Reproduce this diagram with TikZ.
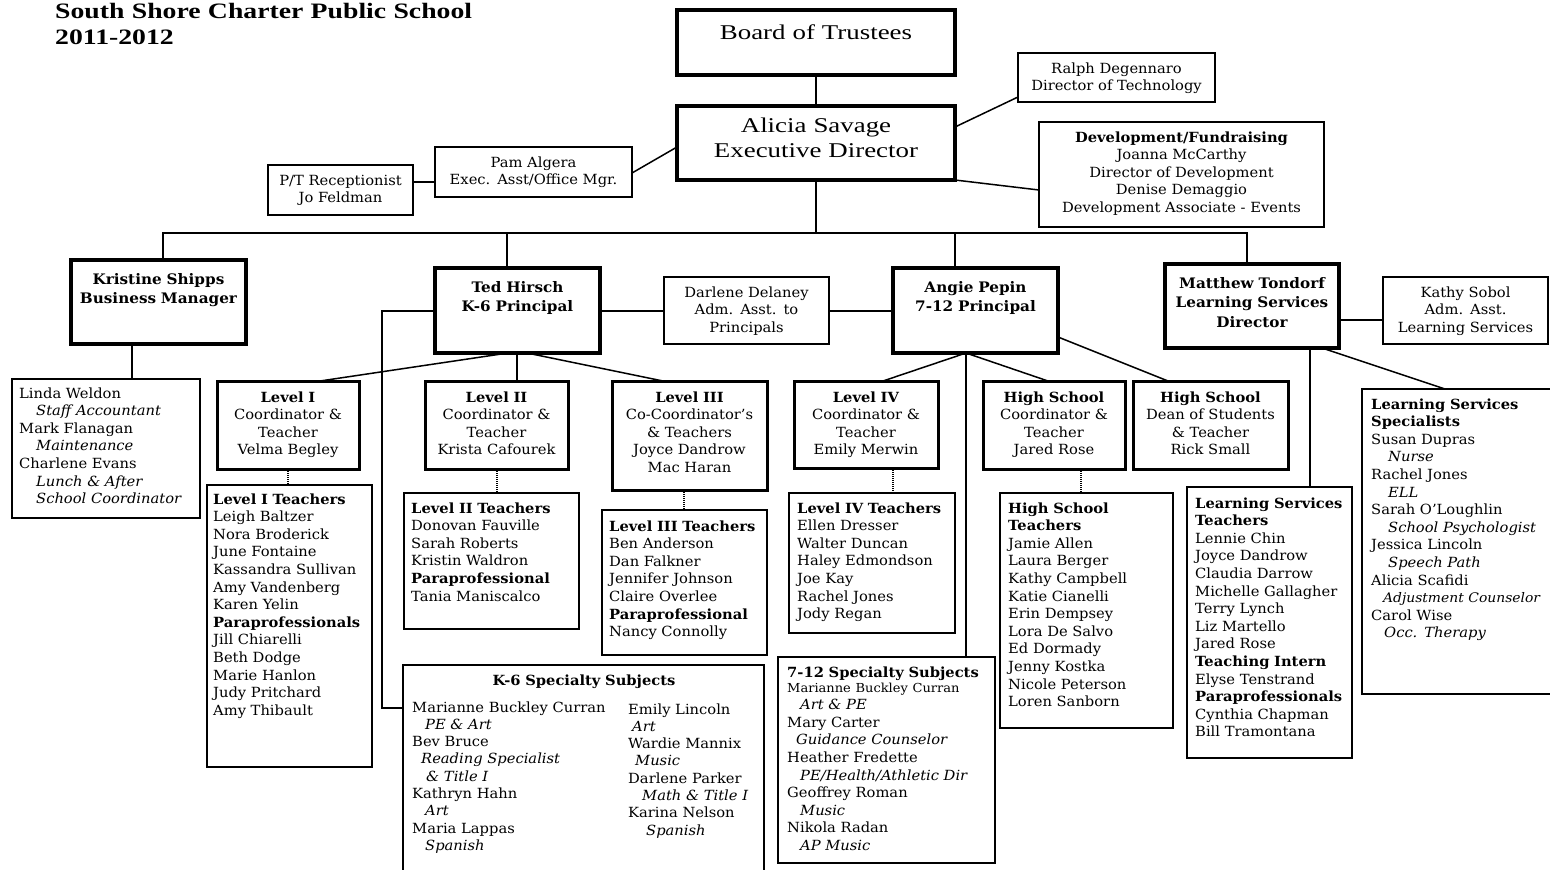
\documentclass[tikz,border=0pt]{standalone}
\usepackage{fontspec}
\setmainfont{DejaVu Serif}[FakeStretch=1.05]
\newfontfamily\tms{Liberation Serif}[FakeStretch=1.28]
\newfontfamily\tmstitle{Liberation Serif}[FakeStretch=1.26]
\usetikzlibrary{calc}
\tikzset{
 box/.style={draw, anchor=north west, inner sep=0pt, outer sep=0pt},
 bxA/.style={box, line width=4pt},
 bxB/.style={box, line width=3pt},
 bxC/.style={box, line width=1.8pt},
 body/.style={font=\fontsize{14}{17.6}\selectfont, inner sep=0pt},
 ctr/.style={body, align=center, anchor=base, text width=260pt},
 lft/.style={body, align=left, anchor=base west, text width=260pt},
 head/.style={font=\fontsize{14.5}{19.5}\selectfont\bfseries, inner sep=0pt, align=center, anchor=base, text width=260pt},
 big/.style={font=\tms\fontsize{21}{25}\selectfont, inner sep=0pt, align=center, anchor=base, text width=300pt},
 conn/.style={line width=1.5pt},
 dots/.style={line width=1.5pt, dash pattern=on 1pt off 1pt},
}
\newcommand\bx[6]{\node[#6, minimum width={(#4-#2)*1pt}, minimum height={(#5-#3)*1pt}] (#1) at (#2,#3) {};}
\newcommand\ital[1]{\hspace*{17pt}\textit{#1}}
\begin{document}
\begin{tikzpicture}[x=1pt,y=-1pt]
\clip (0,0) rectangle (1550,870);
\fill[white] (0,0) rectangle (1550,870);
% ---------- boxes
\bx{board}{677}{10}{955}{75}{bxA}
\bx{alicia}{677}{106}{955}{180}{bxA}
\bx{ralph}{1018}{53}{1215}{102}{bxC}
\bx{dev}{1039}{122}{1324}{227}{bxC}
\bx{pam}{435}{147}{632}{197}{bxC}
\bx{recep}{268}{165}{413}{215}{bxC}
\bx{kristine}{71}{260}{246}{344}{bxA}
\bx{ted}{435}{268}{600}{353}{bxA}
\bx{darlene}{664}{277}{829}{344}{bxC}
\bx{angie}{893}{268}{1058}{353}{bxA}
\bx{matthew}{1165}{264}{1339}{348}{bxA}
\bx{kathy}{1383}{277}{1548}{344}{bxC}
\bx{linda}{12}{379}{200}{518}{bxC}
\bx{lev1}{217}{381}{359}{469}{bxB}
\bx{lev1t}{207}{485}{372}{767}{bxC}
\bx{lev2}{425}{381}{568}{469}{bxB}
\bx{lev2t}{404}{493}{579}{629}{bxC}
\bx{lev3}{612}{381}{767}{490}{bxB}
\bx{lev3t}{602}{510}{767}{655}{bxC}
\bx{kspec}{403}{665}{764}{890}{bxC}
\bx{lev4}{794}{381}{938}{468}{bxB}
\bx{lev4t}{789}{493}{955}{633}{bxC}
\bx{hs}{983}{381}{1125}{469}{bxB}
\bx{hst}{1000}{493}{1173}{728}{bxC}
\bx{dean}{1133}{381}{1288}{469}{bxB}
\bx{sspec}{778}{657}{995}{863}{bxC}
\bx{lst}{1187}{487}{1352}{758}{bxC}
\bx{lss}{1362}{389}{1580}{694}{bxC}
% ---------- texts
\node[font=\tmstitle\fontsize{22}{25}\selectfont\bfseries, inner sep=0pt, align=left, anchor=base west, text width=600pt] (title) at (55,19) {South Shore Charter Public School\\2011-2012};
\node[big] (board-t) at (816,39) {Board of Trustees};
\node[big] (alicia-t) at (816,132) {Alicia Savage\\Executive Director};
\node[ctr] (ralph-t) at (1116.5,73) {Ralph Degennaro\\Director of Technology};
\node[ctr] (dev-t) at (1181.5,142) {\textbf{Development/Fundraising}\\Joanna McCarthy\\Director of Development\\Denise Demaggio\\Development Associate - Events};
\node[ctr] (pam-t) at (533.5,167) {Pam Algera\\Exec. Asst/Office Mgr.};
\node[ctr] (recep-t) at (340.5,185) {P/T Receptionist\\Jo Feldman};
\node[head] (kristine-t) at (158.5,284) {Kristine Shipps\\Business Manager};
\node[head] (ted-t) at (517.5,292) {Ted Hirsch\\K-6 Principal};
\node[head] (angie-t) at (975.5,292) {Angie Pepin\\7-12 Principal};
\node[head] (matthew-t) at (1252,288) {Matthew Tondorf\\Learning Services\\Director};
\node[ctr] (darlene-t) at (746.5,297) {Darlene Delaney\\Adm. Asst. to\\Principals};
\node[ctr] (kathy-t) at (1465.5,297) {Kathy Sobol\\Adm. Asst.\\Learning Services};
\node[lft] (linda-t) at (19,398) {Linda Weldon\\\ital{Staff Accountant}\\Mark Flanagan\\\ital{Maintenance}\\Charlene Evans\\\ital{Lunch \& After}\\\ital{School Coordinator}};
\node[ctr] (lev1-t) at (288,402) {\textbf{Level I}\\Coordinator \&\\Teacher\\Velma Begley};
\node[ctr] (lev2-t) at (496.5,402) {\textbf{Level II}\\Coordinator \&\\Teacher\\Krista Cafourek};
\node[ctr] (lev3-t) at (689.5,402) {\textbf{Level III}\\Co-Coordinator’s\\\& Teachers\\Joyce Dandrow\\Mac Haran};
\node[ctr] (lev4-t) at (866,402) {\textbf{Level IV}\\Coordinator \&\\Teacher\\Emily Merwin};
\node[ctr] (hs-t) at (1054,402) {\textbf{High School}\\Coordinator \&\\Teacher\\Jared Rose};
\node[ctr] (dean-t) at (1210.5,402) {\textbf{High School}\\Dean of Students\\\& Teacher\\Rick Small};
\node[lft] (lev1t-t) at (213,504) {\textbf{Level I Teachers}\\Leigh Baltzer\\Nora Broderick\\June Fontaine\\Kassandra Sullivan\\Amy Vandenberg\\Karen Yelin\\\textbf{Paraprofessionals}\\Jill Chiarelli\\Beth Dodge\\Marie Hanlon\\Judy Pritchard\\Amy Thibault};
\node[lft] (lev2t-t) at (411,513) {\textbf{Level II Teachers}\\Donovan Fauville\\Sarah Roberts\\Kristin Waldron\\\textbf{Paraprofessional}\\Tania Maniscalco};
\node[lft] (lev3t-t) at (609,531) {\textbf{Level III Teachers}\\Ben Anderson\\Dan Falkner\\Jennifer Johnson\\Claire Overlee\\\textbf{Paraprofessional}\\Nancy Connolly};
\node[lft] (lev4t-t) at (797,513) {\textbf{Level IV Teachers}\\Ellen Dresser\\Walter Duncan\\Haley Edmondson\\Joe Kay\\Rachel Jones\\Jody Regan};
\node[lft] (hst-t) at (1008,513) {\textbf{High School}\\\textbf{Teachers}\\Jamie Allen\\Laura Berger\\Kathy Campbell\\Katie Cianelli\\Erin Dempsey\\Lora De Salvo\\Ed Dormady\\Jenny Kostka\\Nicole Peterson\\Loren Sanborn};
\node[lft] (lst-t) at (1195,508) {\textbf{Learning Services}\\\textbf{Teachers}\\Lennie Chin\\Joyce Dandrow\\Claudia Darrow\\Michelle Gallagher\\Terry Lynch\\Liz Martello\\Jared Rose\\\textbf{Teaching Intern}\\Elyse Tenstrand\\\textbf{Paraprofessionals}\\Cynthia Chapman\\Bill Tramontana};
\node[lft] (lss-t) at (1371,409) {\textbf{Learning Services}\\\textbf{Specialists}\\Susan Dupras\\\ital{Nurse}\\Rachel Jones\\\ital{ELL}\\Sarah O’Loughlin\\\ital{School Psychologist}\\Jessica Lincoln\\\ital{Speech Path}\\Alicia Scafidi\\\hspace*{12pt}{\fontsize{13.2}{17.6}\selectfont\textit{Adjustment Counselor}}\\Carol Wise\\\hspace*{13pt}\textit{Occ. Therapy}};
\node[ctr, font=\fontsize{14}{17.3}\selectfont\bfseries] (kspec-h) at (584,685) {K-6 Specialty Subjects};
\node[lft, font=\fontsize{14}{17.3}\selectfont] (kspec-l) at (412,712) {Marianne Buckley Curran\\\hspace*{13pt}\textit{PE \& Art}\\Bev Bruce\\\hspace*{9pt}\textit{Reading Specialist}\\\hspace*{14pt}\textit{\& Title I}\\Kathryn Hahn\\\hspace*{13pt}\textit{Art}\\Maria Lappas\\\hspace*{13pt}\textit{Spanish}};
\node[lft, font=\fontsize{14}{17.3}\selectfont] (kspec-r) at (628,714) {Emily Lincoln\\\hspace*{4pt}\textit{Art}\\Wardie Mannix\\\hspace*{7pt}\textit{Music}\\Darlene Parker\\\hspace*{14pt}\textit{Math \& Title I}\\Karina Nelson\\\hspace*{18pt}\textit{Spanish}};
\node[lft] (sspec-h) at (787,677) {\textbf{7-12 Specialty Subjects}};
\node[lft, font=\fontsize{14}{17.6}\selectfont] (sspec-t) at (787,692) {{\fontsize{12.4}{17.6}\selectfont Marianne Buckley Curran}\\\hspace*{13pt}\textit{Art \& PE}\\Mary Carter\\\hspace*{9pt}\textit{Guidance Counselor}\\Heather Fredette\\\hspace*{13pt}\textit{PE/Health/Athletic Dir}\\Geoffrey Roman\\\hspace*{13pt}\textit{Music}\\Nikola Radan\\\hspace*{13pt}\textit{AP Music}};
% ---------- connectors
\coordinate (busL) at (163,233);
\coordinate (busT) at (507,233);
\coordinate (busA) at (955,233);
\coordinate (busR) at (1247,233);
\coordinate (tedL) at (382,311);
\coordinate (tedB) at (382,708);
\draw[conn] (board.south) -- (alicia.north);
\draw[conn] (alicia.south) -- (alicia.south |- busL);
\draw[conn] (kristine.north -| busL) -- (busL) -- (busR) -- (matthew.north -| busR);
\draw[conn] (busT) -- (ted.north -| busT);
\draw[conn] (busA) -- (angie.north -| busA);
\draw[conn] (alicia.east |- 0,127) -- (ralph.west |- 0,97);
\draw[conn] (alicia.south east) -- (dev.west |- 0,190);
\draw[conn] (pam.east |- 0,173) -- (alicia.west |- 0,147);
\draw[conn] (recep.east |- 0,182) -- (pam.west |- 0,182);
\draw[conn] (kristine.south -| 132,0) -- (linda.north -| 132,0);
\draw[conn] (ted.west |- tedL) -- (tedL) -- (tedB) -- (kspec.west |- tedB);
\draw[conn] (ted.east |- 0,311) -- (darlene.west |- 0,311);
\draw[conn] (darlene.east |- 0,311) -- (angie.west |- 0,311);
\draw[conn] (ted.south -| 508,0) -- (lev1.north -| 320,0);
\draw[conn] (ted.south -| 517,0) -- (lev2.north -| 517,0);
\draw[conn] (ted.south -| 527,0) -- (lev3.north -| 663,0);
\draw[conn] (angie.south -| 966,0) -- (lev4.north -| 883,0);
\draw[conn] (angie.south -| 966,0) -- (hs.north -| 1048,0);
\draw[conn] (angie.east |- 0,337) -- (dean.north -| 1168,0);
\draw[conn] (angie.south -| 966,0) -- (sspec.north -| 966,0);
\draw[conn] (matthew.east |- 0,320) -- (kathy.west |- 0,320);
\draw[conn] (matthew.south -| 1310,0) -- (lst.north -| 1310,0);
\draw[conn] (matthew.south -| 1322,0) -- (lss.north -| 1445,0);
\draw[dots] (lev1.south -| 288,0) -- (lev1t.north -| 288,0);
\draw[dots] (lev2.south -| 497,0) -- (lev2t.north -| 497,0);
\draw[dots] (lev3.south -| 684,0) -- (lev3t.north -| 684,0);
\draw[dots] (lev4.south -| 893,0) -- (lev4t.north -| 893,0);
\draw[dots] (hs.south -| 1081,0) -- (hst.north -| 1081,0);
\end{tikzpicture}
\end{document}
